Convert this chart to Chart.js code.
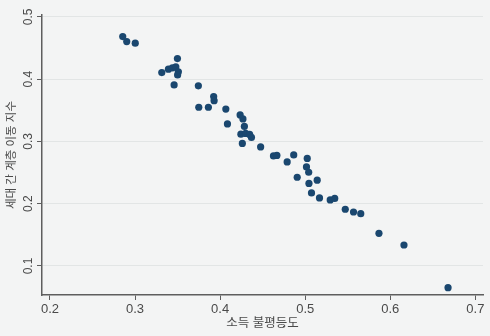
<!DOCTYPE html>
<html>
<head>
<meta charset="utf-8">
<script src="https://cdn.jsdelivr.net/npm/chart.js@4/dist/chart.umd.min.js"></script>
<style>
  html, body { margin: 0; padding: 0; background: #f3f4f4; }
  #wrap { width: 490px; height: 336px; }
</style>
</head>
<body>
<div id="wrap"><canvas id="c" width="490" height="336"></canvas></div>
<script>
const inequality = [0.2855, 0.2902, 0.3002, 0.3314, 0.3392, 0.3439, 0.3479, 0.3498, 0.3509, 0.3500,
  0.3459, 0.3744, 0.3749, 0.3862, 0.3924, 0.3929, 0.4067, 0.4086, 0.4235, 0.4268,
  0.4285, 0.4244, 0.4300, 0.4347, 0.4368, 0.4261, 0.4476, 0.4627, 0.4667, 0.4865,
  0.4788, 0.5024, 0.5015, 0.5041, 0.4906, 0.5141, 0.5044, 0.5074, 0.5168, 0.5294,
  0.5347, 0.5471, 0.5568, 0.5653, 0.5867, 0.6161, 0.6679];
const mobility = [0.4684, 0.4603, 0.4578, 0.4105, 0.4160, 0.4181, 0.4197, 0.4330, 0.4117, 0.4068,
  0.3908, 0.3892, 0.3549, 0.3549, 0.3720, 0.3655, 0.3519, 0.3281, 0.3426, 0.3361,
  0.3241, 0.3116, 0.3129, 0.3112, 0.3064, 0.2968, 0.2912, 0.2767, 0.2775, 0.2783,
  0.2671, 0.2727, 0.2590, 0.2505, 0.2425, 0.2377, 0.2325, 0.2173, 0.2092, 0.2060,
  0.2084, 0.1911, 0.1867, 0.1840, 0.1525, 0.1337, 0.0651];
const xTicks = [0.2, 0.3, 0.4, 0.5, 0.6, 0.7];
const yTicks = [0.1, 0.2, 0.3, 0.4, 0.5];
const xTitle = '소득 불평등도';
const yTitle = '세대 간 계층 이동 지수';

const points = inequality.map((x, i) => ({ x: x, y: mobility[i] }));
const fontFamily = "'Liberation Sans', 'Noto Sans CJK KR', sans-serif";
const axisColor = '#5e5e5e';
const textColor = '#4a4a4a';

new Chart(document.getElementById('c'), {
  type: 'scatter',
  data: {
    datasets: [{
      data: points,
      backgroundColor: '#1a476f',
      borderColor: '#1a476f',
      borderWidth: 0,
      pointRadius: 3.6,
      pointHoverRadius: 3.6
    }]
  },
  options: {
    responsive: false,
    animation: false,
    events: [],
    layout: { padding: { top: 15, right: 7, left: 0, bottom: 0 } },
    plugins: { legend: { display: false }, tooltip: { enabled: false } },
    scales: {
      x: {
        type: 'linear',
        min: 0.1906,
        max: 0.709,
        afterBuildTicks: s => { s.ticks = xTicks.map(v => ({ value: v })); },
        afterFit: s => { s.height = 41; },
        border: { display: true, color: axisColor, width: 1.5 },
        grid: { drawOnChartArea: false, drawTicks: true, tickLength: 5, tickColor: axisColor },
        ticks: {
          color: textColor, padding: 2,
          font: { family: fontFamily, size: 13 },
          callback: v => String(v)
        },
        title: {
          display: true, text: xTitle, color: textColor,
          font: { family: fontFamily, size: 12.5 },
          padding: { top: 0, bottom: 5 }
        }
      },
      y: {
        type: 'linear',
        min: 0.0534,
        max: 0.503,
        afterBuildTicks: s => { s.ticks = yTicks.map(v => ({ value: v })); },
        afterFit: s => { s.width = 42; },
        border: { display: true, color: axisColor, width: 1.5 },
        grid: { color: '#e2e5e5', lineWidth: 1, drawTicks: true, tickLength: 5, tickColor: axisColor },
        ticks: {
          color: textColor, padding: 0, minRotation: 90, maxRotation: 90,
          crossAlign: 'center',
          font: { family: fontFamily, size: 12 },
          callback: v => String(v)
        },
        title: {
          display: true, text: yTitle, color: textColor,
          font: { family: fontFamily, size: 11.5 },
          padding: { top: 5, bottom: 0 }
        }
      }
    }
  }
});
</script>
</body>
</html>
